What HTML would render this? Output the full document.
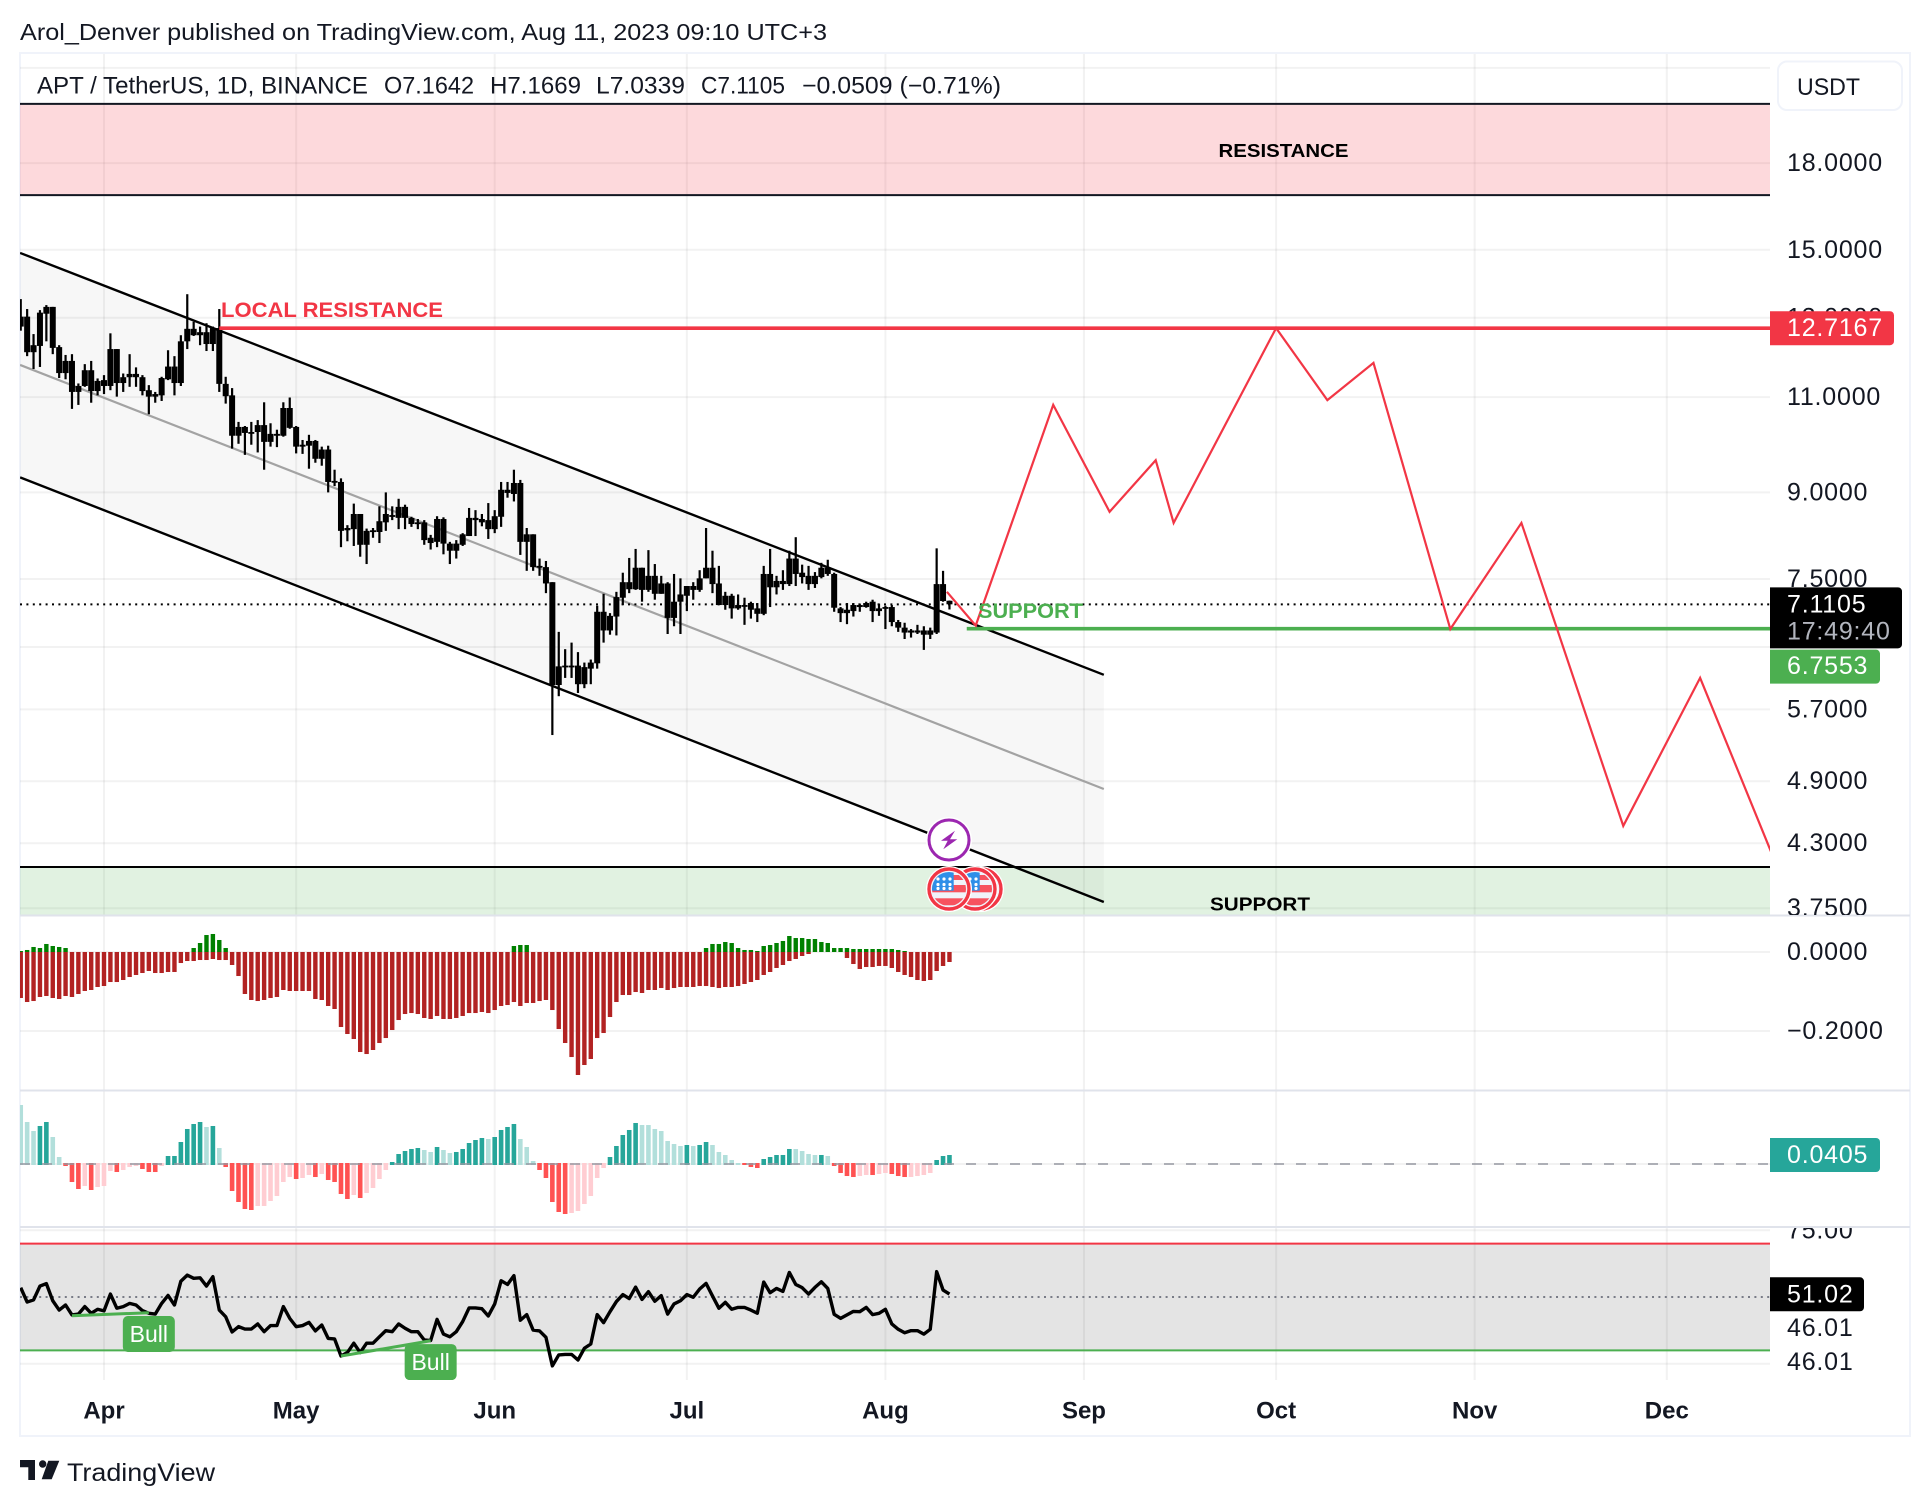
<!DOCTYPE html>
<html lang="en">
<head>
<meta charset="utf-8">
<title>APT / TetherUS chart</title>
<style>
html,body{margin:0;padding:0;background:#fff;}
svg{display:block;font-family:"Liberation Sans",sans-serif;}
.tick{font-size:25px;letter-spacing:.8px;fill:#131722;}
.legend{font-size:24px;fill:#131722;}
</style>
</head>
<body>
<svg id="chart" xmlns="http://www.w3.org/2000/svg" width="1930" height="1506" viewBox="0 0 1930 1506">
<defs>
<clipPath id="clip-price"><rect x="20" y="54" width="1750" height="861"/></clipPath>
<clipPath id="clip-macd"><rect x="20" y="916" width="1750" height="174"/></clipPath>
<clipPath id="clip-squeeze"><rect x="20" y="1091" width="1750" height="135"/></clipPath>
<clipPath id="clip-rsi"><rect x="20" y="1228" width="1750" height="152"/></clipPath>
<clipPath id="clip-price-axis"><rect x="1772" y="54" width="136" height="861"/></clipPath>
<clipPath id="clip-squeeze-axis"><rect x="1772" y="1092" width="136" height="134"/></clipPath>
<clipPath id="clip-rsi-axis"><rect x="1772" y="1228" width="136" height="152"/></clipPath>
<clipPath id="flag-clip"><circle cx="0" cy="0" r="17"/></clipPath>
<g id="us-flag">
<circle r="23" fill="#fff"/>
<circle r="20" fill="#f0f3fa" stroke="#f23645" stroke-width="3.4"/>
<g clip-path="url(#flag-clip)">
<rect x="-17" y="-14" width="34" height="5" fill="#f7525f"/>
<rect x="-17" y="-4" width="34" height="7.3" fill="#f7525f"/>
<rect x="-17" y="9.3" width="34" height="7" fill="#f7525f"/>
<rect x="-17" y="-17" width="21.7" height="18.7" fill="#2f8fe8"/>
<circle cx="-11" cy="-10" r="1.6" fill="#fff"/><circle cx="-5" cy="-10" r="1.6" fill="#fff"/><circle cx="1" cy="-10" r="1.6" fill="#fff"/>
<circle cx="-11" cy="-4.5" r="1.6" fill="#fff"/><circle cx="-5" cy="-4.5" r="1.6" fill="#fff"/><circle cx="1" cy="-4.5" r="1.6" fill="#fff"/>
<circle cx="-11" cy="-.5" r="1.6" fill="#fff"/><circle cx="-5" cy="-.5" r="1.6" fill="#fff"/><circle cx="1" cy="-.5" r="1.6" fill="#fff"/>
</g>
</g>
</defs>

<text x="20" y="40" font-size="23" fill="#131722" textLength="807" lengthAdjust="spacingAndGlyphs">Arol_Denver published on TradingView.com, Aug 11, 2023 09:10 UTC+3</text>

<rect x="20" y="53" width="1890" height="1383" fill="#fff" stroke="#f0f3fa" stroke-width="2"/>

<g id="grid-layer"></g>
<g id="price-layer" clip-path="url(#clip-price)"></g>
<g id="macd-layer" clip-path="url(#clip-macd)"></g>
<g id="squeeze-layer" clip-path="url(#clip-squeeze)"></g>
<g id="rsi-layer" clip-path="url(#clip-rsi)"></g>

<line x1="20" x2="1910" y1="915.5" y2="915.5" stroke="#e0e3eb" stroke-width="2"/>
<line x1="20" x2="1910" y1="1090.5" y2="1090.5" stroke="#e0e3eb" stroke-width="2"/>
<line x1="20" x2="1910" y1="1227" y2="1227" stroke="#e0e3eb" stroke-width="2"/>

<g>
<text class="legend" x="37" y="93.5" textLength="331" lengthAdjust="spacingAndGlyphs">APT / TetherUS, 1D, BINANCE</text>
<text class="legend" x="384" y="93.5" textLength="90" lengthAdjust="spacingAndGlyphs">O7.1642</text>
<text class="legend" x="490" y="93.5" textLength="91" lengthAdjust="spacingAndGlyphs">H7.1669</text>
<text class="legend" x="596" y="93.5" textLength="89" lengthAdjust="spacingAndGlyphs">L7.0339</text>
<text class="legend" x="701" y="93.5" textLength="84" lengthAdjust="spacingAndGlyphs">C7.1105</text>
<text class="legend" x="802" y="93.5" textLength="199" lengthAdjust="spacingAndGlyphs">−0.0509 (−0.71%)</text>
</g>

<g id="price-axis" clip-path="url(#clip-price-axis)"></g>
<g id="macd-axis"></g>
<g id="squeeze-axis" clip-path="url(#clip-squeeze-axis)"></g>
<g id="rsi-axis" clip-path="url(#clip-rsi-axis)"></g>
<g id="time-axis"></g>
<g id="tags-layer"></g>

<g>
<rect x="1778" y="61.5" width="124" height="48.5" rx="9" fill="#fff" stroke="#f0f3fa" stroke-width="2"/>
<text x="1797" y="95" font-size="24" fill="#131722" textLength="63" lengthAdjust="spacingAndGlyphs">USDT</text>
</g>

<g transform="translate(949,840)">
<circle r="23" fill="#fff"/>
<circle r="20" fill="#fff" stroke="#9c27b0" stroke-width="3"/>
<polygon points="6,-9.3 -8,0.7 -1.3,0.7 -5.7,9.3 8.3,-0.7 1,-0.7" fill="#9c27b0"/>
</g>
<use href="#us-flag" x="981" y="889"/>
<use href="#us-flag" x="975" y="889"/>
<use href="#us-flag" x="949" y="889"/>

<g>
<path d="M20 1460H35V1480H28.3V1467.3H20Z" fill="#131722"/>
<circle cx="42.7" cy="1464" r="3.7" fill="#131722"/>
<polygon points="48.3,1460.7 59.3,1460.7 51.7,1479.3 41.7,1479.3" fill="#131722"/>
<text x="67" y="1481" font-size="25" fill="#131722" textLength="148" lengthAdjust="spacingAndGlyphs">TradingView</text>
</g>

<script>
// ---- chart data (daily, first bar is 13 days before Apr 1) ----
const firstDay = -13;
const opens = [
12.76,13.03,12.09,12.25,13.11,13.30,12.22,11.57,11.87,11.12,
11.26,11.64,11.14,11.40,11.26,12.17,11.33,11.47,11.55,11.47,
11.16,11.01,11.04,11.42,11.73,11.33,12.37,12.70,12.53,12.61,
12.30,12.72,11.31,11.04,10.14,10.33,10.20,10.22,10.37,10.01,
10.18,10.14,10.75,10.33,9.91,9.93,10.03,9.66,9.85,9.20,
9.20,8.31,8.33,8.60,8.06,8.31,8.28,8.45,8.58,8.53,
8.73,8.53,8.42,8.45,8.18,8.11,8.51,8.08,7.96,8.06,
8.21,8.53,8.51,8.49,8.33,8.55,9.05,8.97,9.18,8.11,
8.24,7.68,7.69,7.45,6.00,6.23,6.25,6.25,6.01,6.21,
6.28,7.00,6.73,6.93,7.21,7.45,7.34,7.68,7.33,7.55,
7.27,7.43,6.91,7.15,7.24,7.39,7.33,7.51,7.68,7.43,
7.10,7.24,7.05,7.10,7.13,7.05,6.97,7.58,7.37,7.47,
7.42,7.83,7.60,7.55,7.42,7.53,7.68,7.58,7.05,6.98,
7.01,7.10,7.07,7.15,7.01,7.05,7.07,6.85,6.77,6.70,
6.73,6.73,6.67,6.70,7.42,7.1642];
const highs = [
13.52,13.24,12.56,13.21,13.35,13.30,12.27,12.02,12.04,11.32,
11.79,11.87,11.44,11.52,12.58,12.17,11.56,12.04,11.71,11.52,
11.28,11.12,11.48,12.14,11.99,12.53,13.66,12.89,12.76,12.85,
12.76,13.24,11.48,11.21,10.44,10.35,10.44,10.48,10.88,10.41,
10.27,10.88,10.99,10.35,10.05,10.16,10.05,9.91,9.93,9.44,
9.27,8.40,8.79,8.60,8.34,8.35,8.74,9.00,8.74,8.88,
8.77,8.55,8.51,8.49,8.23,8.56,8.54,8.11,8.14,8.26,
8.71,8.67,8.60,8.80,8.67,9.20,9.20,9.44,9.24,8.35,
8.24,7.83,7.79,7.45,6.71,6.47,6.56,6.43,6.29,6.33,
7.09,7.27,6.98,7.30,7.60,7.84,7.99,7.68,7.97,7.74,
7.55,7.45,7.58,7.51,7.39,7.45,7.64,8.35,7.96,7.71,
7.30,7.27,7.26,7.21,7.15,7.13,7.71,7.99,7.55,7.64,
7.96,8.19,7.73,7.71,7.61,7.76,7.81,7.60,7.07,7.13,
7.13,7.12,7.15,7.18,7.12,7.09,7.10,6.88,6.84,6.75,
6.81,6.79,6.77,8.00,7.63,7.1669];
const lows = [
12.65,11.99,11.67,11.72,12.37,12.04,11.45,11.42,10.73,10.82,
11.24,10.87,11.04,11.07,11.16,11.01,11.12,11.24,11.24,11.04,
10.61,10.87,10.91,11.40,11.04,11.26,12.17,12.51,12.27,12.12,
12.12,11.12,10.85,9.87,9.97,9.74,9.95,9.79,9.44,9.91,
9.90,10.12,10.29,9.77,9.76,9.46,9.58,9.52,9.00,9.12,
8.02,8.12,8.04,7.86,7.74,8.18,8.09,8.30,8.49,8.33,
8.33,8.37,8.33,8.06,7.98,8.02,7.90,7.74,7.83,8.04,
8.21,8.21,8.38,8.16,8.26,8.37,8.90,8.83,7.89,7.63,
7.63,7.55,7.28,5.40,5.86,6.09,6.09,5.90,5.96,6.01,
6.21,6.56,6.67,6.66,7.10,7.28,7.33,7.15,7.30,7.18,
7.27,6.68,6.79,6.68,7.01,7.18,7.30,7.51,7.28,7.10,
7.03,6.90,7.03,6.81,6.90,6.85,6.95,7.07,7.26,7.33,
7.39,7.39,7.43,7.33,7.36,7.51,7.55,7.00,6.85,6.82,
6.93,7.00,7.06,6.85,6.94,6.75,6.79,6.71,6.61,6.63,
6.68,6.46,6.61,6.68,7.15,7.0339];
const closes = [
13.03,12.09,12.27,13.14,13.30,12.20,11.57,11.87,11.12,11.26,
11.64,11.14,11.38,11.26,12.17,11.33,11.47,11.55,11.47,11.14,
11.01,11.07,11.45,11.73,11.33,12.37,12.70,12.53,12.61,12.30,
12.72,11.31,11.02,10.14,10.33,10.20,10.22,10.37,10.01,10.18,
10.14,10.75,10.31,9.91,9.95,10.03,9.66,9.85,9.20,9.22,
8.30,8.35,8.60,8.06,8.30,8.28,8.47,8.60,8.55,8.73,
8.53,8.42,8.45,8.14,8.09,8.51,8.08,7.96,8.08,8.24,
8.53,8.49,8.45,8.33,8.56,9.05,8.99,9.18,8.11,8.24,
7.69,7.71,7.43,6.00,6.24,6.25,6.24,6.01,6.23,6.29,
7.00,6.73,6.94,7.22,7.45,7.34,7.68,7.33,7.55,7.27,
7.43,6.91,7.15,7.26,7.39,7.33,7.51,7.68,7.42,7.10,
7.24,7.05,7.10,7.09,7.03,6.97,7.58,7.37,7.47,7.42,
7.83,7.58,7.53,7.42,7.55,7.68,7.58,7.06,6.98,7.03,
7.10,7.07,7.13,7.01,7.05,7.07,6.85,6.77,6.70,6.73,
6.70,6.67,6.73,7.42,7.16,7.1105];
const macdRed = [
-.1165,-.1266,-.1241,-.1139,-.1114,-.1165,-.1190,-.1114,-.1139,-.1063,
-.0987,-.0962,-.0886,-.0861,-.0760,-.0760,-.0709,-.0633,-.0582,-.0532,
-.0481,-.0532,-.0532,-.0506,-.0506,-.0279,-.0228,-.0228,-.0203,-.0203,
-.0177,-.0203,-.0203,-.0329,-.0608,-.1063,-.1215,-.1241,-.1215,-.1165,
-.1139,-.0962,-.0987,-.0987,-.0987,-.0987,-.1190,-.1215,-.1367,-.1443,
-.1899,-.2076,-.2203,-.2532,-.2583,-.2481,-.2304,-.2178,-.1975,-.1722,
-.1570,-.1545,-.1570,-.1671,-.1696,-.1620,-.1696,-.1696,-.1671,-.1620,
-.1545,-.1545,-.1519,-.1545,-.1469,-.1367,-.1342,-.1266,-.1367,-.1291,
-.1291,-.1241,-.1215,-.1469,-.1950,-.2304,-.2659,-.3114,-.2861,-.2709,
-.2178,-.2051,-.1646,-.1266,-.1089,-.1089,-.1013,-.1038,-.0962,-.0962,
-.0912,-.0962,-.0912,-.0886,-.0886,-.0886,-.0861,-.0861,-.0886,-.0912,
-.0886,-.0886,-.0861,-.0810,-.0760,-.0709,-.0582,-.0506,-.0405,-.0329,
-.0228,-.0177,-.0101,-.0051,0,0,0,0,0,-.0152,
-.0304,-.0430,-.0380,-.0380,-.0354,-.0354,-.0405,-.0506,-.0582,-.0633,
-.0709,-.0734,-.0709,-.0481,-.0354,-.0253];
const macdGreen = [
.0025,.0051,.0127,.0101,.0203,.0152,.0127,.0101,0,0,
0,0,0,0,0,0,0,0,0,0,
0,0,0,0,0,0,0,.0101,.0228,.0430,
.0456,.0304,.0101,0,0,0,0,0,0,0,
0,0,0,0,0,0,0,0,0,0,
0,0,0,0,0,0,0,0,0,0,
0,0,0,0,0,0,0,0,0,0,
0,0,0,0,0,0,0,.0152,.0177,.0177,
0,0,0,0,0,0,0,0,0,0,
0,0,0,0,0,0,0,0,0,0,
0,0,0,0,0,0,0,.0101,.0203,.0203,
.0253,.0228,.0101,.0051,.0051,.0025,.0152,.0177,.0228,.0279,
.0405,.0354,.0354,.0329,.0329,.0253,.0228,.0101,.0101,.0101,
.0076,.0076,.0076,.0076,.0076,.0076,.0076,.0051,.0025,0,
0,0,0,0,0,0];
const squeeze = [
.2658,.1892,.1486,.1712,.1892,.1216,.0315,-.0090,-.0811,-.1126,
-.0991,-.1171,-.1036,-.0991,-.0315,-.0360,-.0270,-.0135,-.0090,-.0225,
-.0360,-.0361,-.0090,.0360,.0361,.0991,.1577,.1802,.1892,.1667,
.1712,.0721,-.0135,-.1216,-.1712,-.2027,-.2072,-.1892,-.1891,-.1667,
-.1441,-.0811,-.0586,-.0676,-.0631,-.0495,-.0586,-.0450,-.0721,-.0811,
-.1351,-.1577,-.1396,-.1532,-.1306,-.1081,-.0676,-.0270,.0090,.0450,
.0586,.0676,.0721,.0631,.0541,.0766,.0631,.0495,.0541,.0676,
.0946,.1081,.1171,.1126,.1216,.1532,.1667,.1802,.1126,.0766,
.0135,-.0270,-.0631,-.1712,-.2162,-.2252,-.2207,-.2117,-.1802,-.1441,
-.0631,-.0180,.0315,.0811,.1306,.1532,.1847,.1757,.1756,.1577,
.1486,.1036,.0901,.0811,.0856,.0811,.0856,.0991,.0856,.0541,
.0405,.0180,.0045,-.0045,-.0135,-.0180,.0225,.0315,.0405,.0406,
.0676,.0675,.0586,.0450,.0405,.0406,.0360,-.0090,-.0405,-.0541,
-.0586,-.0541,-.0495,-.0496,-.0450,-.0405,-.0450,-.0541,-.0586,-.0585,
-.0541,-.0495,-.0405,.0180,.0360,.0405];
const rsi = [
53.5,48.1,48.9,54.1,55.0,48.6,45.1,47.0,43.3,43.6,
46.4,43.9,45.4,44.8,51.1,45.8,46.4,47.6,47.0,44.9,
43.9,43.6,47.6,50.6,47.0,55.9,58.2,57.0,57.2,54.1,
57.6,45.1,42.6,36.9,38.9,38.0,38.0,39.9,37.0,39.3,
39.3,46.4,42.0,38.9,39.3,40.5,37.3,39.5,34.5,34.3,
27.9,29.2,32.7,29.2,32.7,32.7,35.1,37.4,37.0,39.9,
38.3,37.0,37.0,33.9,33.7,41.6,36.1,35.1,37.0,40.8,
45.9,45.9,45.6,42.9,47.4,56.1,54.7,58.0,41.3,43.4,
37.6,37.3,34.9,24.2,28.3,28.5,28.5,26.4,30.8,32.4,
43.4,40.4,44.5,48.3,50.9,49.4,53.7,49.1,52.0,48.4,
50.5,43.6,47.4,48.6,50.9,49.9,53.0,55.1,50.4,45.8,
48.0,45.4,46.1,46.1,45.1,43.9,55.6,51.6,53.2,52.1,
59.2,54.7,53.5,51.1,53.6,55.7,53.2,43.5,42.0,43.3,
44.6,44.5,46.1,43.4,43.9,45.4,39.9,37.9,36.6,37.4,
37.4,36.1,37.9,59.5,52.6,51.1];

const priceTickLabels = ['18.0000','15.0000','13.0000','11.0000','9.0000','7.5000','5.7000','4.9000','4.3000','3.7500'];
const extraPriceGrid = [22,6.5];
const macdTickValues = [0,-0.2];
const macdTickLabels = ['0.0000','−0.2000'];
const monthLabels = ['Apr','May','Jun','Jul','Aug','Sep','Oct','Nov','Dec'];
const monthDays = [0,30,61,91,122,153,183,214,244];

const lastPrice = 7.1105;
const resistancePrice = 12.7167;
const resistanceStartDay = 18;
const supportPrice = 6.7553;
const supportStartDay = 134.7;
const resistanceZone = [20.39,16.83];
const supportZone = [4.09,3.55];
const channelDays = [-13.1,156.1];
const channelTop = [14.90,6.13];
const channelMid = [11.77,4.82];
const channelBottom = [9.29,3.80];
const forecastDays = [131.6,136.1,148.2,157,164.2,167,183.0,191,198.2,210.2,221.3,237.2,249.2,260.3];
const forecastPrices = [7.30,6.80,10.82,8.64,9.63,8.44,12.72,10.93,11.82,6.75,8.44,4.46,6.09,4.22];
const bullDivergenceDays = [[-5,7],[37,51]];
const bullDivergenceRsi = [[43,44.1],[27.9,33.6]];

// ---- axis functions ----
function dayX(d){return 104+6.405*d;}
function priceY(p){return 579-475*Math.log(p/7.5);}
function macdY(v){return 952-395*v;}
function squeezeY(v){return 1164-222*v;}
function rsiY(v){return 1297-2.67*(v-50);}

const SVGNS='http://www.w3.org/2000/svg';
function el(tag,attrs,parent,text){
  const n=document.createElementNS(SVGNS,tag);
  for(const k in attrs){n.setAttribute(k,attrs[k]);}
  if(text!==undefined){n.textContent=text;}
  parent.appendChild(n);
  return n;
}
const gridLayer=document.getElementById('grid-layer');
const priceLayer=document.getElementById('price-layer');
const macdLayer=document.getElementById('macd-layer');
const squeezeLayer=document.getElementById('squeeze-layer');
const rsiLayer=document.getElementById('rsi-layer');
const priceAxis=document.getElementById('price-axis');
const macdAxis=document.getElementById('macd-axis');
const squeezeAxis=document.getElementById('squeeze-axis');
const rsiAxis=document.getElementById('rsi-axis');
const timeAxis=document.getElementById('time-axis');
const tagsLayer=document.getElementById('tags-layer');
function gridH(y){
  const l=el('line',{x1:20,x2:1770,y1:y,y2:y,stroke:'#808080','stroke-opacity':.1,'stroke-width':2},gridLayer);
  
  
}
// vertical grid
monthDays.forEach(function(d,i){
  const v=el('line',{x1:dayX(d),x2:dayX(d),y1:54,y2:1380,stroke:'#808080','stroke-opacity':.1,'stroke-width':2},gridLayer);
  
  
  const t=el('text',{x:dayX(d),y:1418.5,'text-anchor':'middle','font-size':24,'font-weight':'bold',fill:'#131722'},timeAxis,monthLabels[i]);
  
  
});
extraPriceGrid.forEach(function(p){gridH(priceY(p));});
priceTickLabels.forEach(function(lbl){
  const y=priceY(parseFloat(lbl));
  gridH(y);
  const t=el('text',{x:1787,y:y+8,class:'tick'},priceAxis,lbl);
  
  
});
macdTickValues.forEach(function(v,i){
  const y=macdY(v);
  gridH(y);
  const t=el('text',{x:1787,y:y+8,class:'tick'},macdAxis,macdTickLabels[i]);
  
  
});
gridH(squeezeY(0));
const sq0=el('text',{x:1787,y:squeezeY(0)+8,class:'tick'},squeezeAxis,'0.0000');


gridH(rsiY(75));
gridH(rsiY(25));
const r75=el('text',{x:1787,y:rsiY(75)+8,class:'tick'},rsiAxis,'75.00');


const r46a=el('text',{x:1787,y:1336,class:'tick'},rsiAxis,'46.01');


const r46b=el('text',{x:1787,y:1370,class:'tick'},rsiAxis,'46.01');



// price pane
const zoneR=el('rect',{x:20,y:priceY(resistanceZone[0]),width:1750,height:priceY(resistanceZone[1])-priceY(resistanceZone[0]),fill:'#f23645','fill-opacity':.19},priceLayer);


const chFill=el('polygon',{points:[dayX(channelDays[0])+','+priceY(channelTop[0]),dayX(channelDays[1])+','+priceY(channelTop[1]),dayX(channelDays[1])+','+priceY(channelBottom[1]),dayX(channelDays[0])+','+priceY(channelBottom[0])].join(' '),fill:'#000','fill-opacity':.032},priceLayer);


const zoneS=el('rect',{x:20,y:priceY(supportZone[0]),width:1750,height:priceY(supportZone[1])-priceY(supportZone[0]),fill:'#4caf50','fill-opacity':.17},priceLayer);


const zrt=el('line',{x1:20,x2:1770,y1:priceY(resistanceZone[0]),y2:priceY(resistanceZone[0]),stroke:'#131722','stroke-width':2},priceLayer);


const zrb=el('line',{x1:20,x2:1770,y1:priceY(resistanceZone[1]),y2:priceY(resistanceZone[1]),stroke:'#131722','stroke-width':2},priceLayer);


const zst=el('line',{x1:20,x2:1770,y1:priceY(supportZone[0]),y2:priceY(supportZone[0]),stroke:'#000','stroke-width':2},priceLayer);


const chTop=el('line',{x1:dayX(channelDays[0]),y1:priceY(channelTop[0]),x2:dayX(channelDays[1]),y2:priceY(channelTop[1]),stroke:'#000','stroke-width':2.4},priceLayer);


const chMid=el('line',{x1:dayX(channelDays[0]),y1:priceY(channelMid[0]),x2:dayX(channelDays[1]),y2:priceY(channelMid[1]),stroke:'#a3a3a3','stroke-width':2.2},priceLayer);


const chBot=el('line',{x1:dayX(channelDays[0]),y1:priceY(channelBottom[0]),x2:dayX(channelDays[1]),y2:priceY(channelBottom[1]),stroke:'#000','stroke-width':2.4},priceLayer);


const lastLine=el('line',{x1:20,x2:1770,y1:priceY(lastPrice),y2:priceY(lastPrice),stroke:'#000','stroke-width':2,'stroke-dasharray':'2 4.4'},priceLayer);



// candles
closes.forEach(function(c,i){
  const d=firstDay+i, x=dayX(d);
  const wick=el('rect',{x:x-1.1,y:priceY(highs[i]),width:2.2,height:priceY(lows[i])-priceY(highs[i]),fill:'#000'},priceLayer);
  
  
  const top=Math.min(priceY(opens[i]),priceY(c)), bot=Math.max(priceY(opens[i]),priceY(c));
  const body=el('rect',{x:x-3,y:top,width:6,height:Math.max(bot-top,1.8),fill:'#000'},priceLayer);
  
  
});

// drawings
const resLine=el('line',{x1:dayX(resistanceStartDay),x2:1770,y1:priceY(resistancePrice),y2:priceY(resistancePrice),stroke:'#f23645','stroke-width':3.6},priceLayer);


const supLine=el('line',{x1:dayX(supportStartDay),x2:1770,y1:priceY(supportPrice),y2:priceY(supportPrice),stroke:'#4caf50','stroke-width':3.6},priceLayer);


const forecast=el('polyline',{points:forecastDays.map(function(d,i){return dayX(d)+','+priceY(forecastPrices[i]);}).join(' '),fill:'none',stroke:'#f23645','stroke-width':2.2},priceLayer);


const t1=el('text',{x:221,y:317,'font-size':21,'font-weight':'bold',fill:'#f23645',textLength:222,lengthAdjust:'spacingAndGlyphs'},priceLayer,'LOCAL RESISTANCE');


const t2=el('text',{x:978,y:618,'font-size':21,'font-weight':'bold',fill:'#4caf50',textLength:105,lengthAdjust:'spacingAndGlyphs'},priceLayer,'SUPPORT');


const t3=el('text',{x:1218.5,y:157,'font-size':18,'font-weight':'bold',fill:'#000',textLength:130,lengthAdjust:'spacingAndGlyphs'},priceLayer,'RESISTANCE');


const t4=el('text',{x:1210,y:910.5,'font-size':18,'font-weight':'bold',fill:'#000',textLength:100,lengthAdjust:'spacingAndGlyphs'},priceLayer,'SUPPORT');



// histogram pane
macdRed.forEach(function(v,i){
  if(v===0){return;}
  const b=el('rect',{x:dayX(firstDay+i)-2.2,y:macdY(0),width:4.4,height:macdY(v)-macdY(0),fill:'#b22222'},macdLayer);
  
  
});
macdGreen.forEach(function(v,i){
  if(v===0){return;}
  const b=el('rect',{x:dayX(firstDay+i)-2.2,y:macdY(v),width:4.4,height:macdY(0)-macdY(v),fill:'#008000'},macdLayer);
  
  
});

// squeeze pane
squeeze.forEach(function(v,i){
  const prev=i>0?squeeze[i-1]:Infinity;
  let color;
  if(v>=0){color=v>prev?'#26a69a':'#b2dfdb';}
  else{color=v<=prev?'#ff5252':'#ffcdd2';}
  const x=dayX(firstDay+i)-2.3;
  const top=v>=0?squeezeY(v):squeezeY(0)-1;
  const bot=v>=0?squeezeY(0)+1:squeezeY(v);
  const b=el('rect',{x:x,y:top,width:4.6,height:bot-top,fill:color},squeezeLayer);
  
  
});
const zeroDash=el('line',{x1:20,x2:1770,y1:squeezeY(0),y2:squeezeY(0),stroke:'#9598a1','stroke-opacity':.75,'stroke-width':2,'stroke-dasharray':'10 12'},squeezeLayer);



// rsi pane
const rsiBand=el('rect',{x:20,y:rsiY(70),width:1750,height:rsiY(30)-rsiY(70),fill:'#000','fill-opacity':.105},rsiLayer);


const rsiUp=el('line',{x1:20,x2:1770,y1:rsiY(70),y2:rsiY(70),stroke:'#f23645','stroke-width':2},rsiLayer);


const rsiLow=el('line',{x1:20,x2:1770,y1:rsiY(30),y2:rsiY(30),stroke:'#4caf50','stroke-width':2},rsiLayer);


const rsiMid=el('line',{x1:20,x2:1770,y1:rsiY(50),y2:rsiY(50),stroke:'#787b86','stroke-width':2,'stroke-dasharray':'2 4.4'},rsiLayer);


const rsiPath=el('polyline',{points:rsi.map(function(v,i){return dayX(firstDay+i)+','+rsiY(v);}).join(' '),fill:'none',stroke:'#000','stroke-width':3.4,'stroke-linejoin':'round'},rsiLayer);


bullDivergenceDays.forEach(function(ds,i){
  const vals=bullDivergenceRsi[i];
  const l=el('line',{x1:dayX(ds[0]),y1:rsiY(vals[0]),x2:dayX(ds[1]),y2:rsiY(vals[1]),stroke:'#4caf50','stroke-width':3},rsiLayer);
  
  
  const bx=dayX(ds[1]), by=rsiY(vals[1])+3.3;
  const box=el('rect',{x:bx-26,y:by,width:52,height:36,rx:5,fill:'#4caf50'},rsiLayer);
  
  
  const tx=el('text',{x:bx,y:by+26,'text-anchor':'middle','font-size':23,fill:'#fff'},rsiLayer,'Bull');
  
  
});

// price tags
function tag(yTop,h,w,color){
  const r=el('path',{d:'M1770 '+yTop+'H'+(1770+w-4)+'a4 4 0 0 1 4 4V'+(yTop+h-4)+'a4 4 0 0 1 -4 4H1770Z',fill:color},tagsLayer);
  
  
}
function tagText(s,y,color){
  const t=el('text',{x:1787,y:y+8,class:'tick',style:'fill:'+color},tagsLayer,s);
  
  
}
tag(priceY(resistancePrice)-17,34,124,'#f23645');
tagText('12.7167',priceY(resistancePrice),'#ffffff');
tag(priceY(lastPrice)-17,61,132,'#000000');
tagText('7.1105',priceY(lastPrice),'#ffffff');
tagText('17:49:40',priceY(lastPrice)+27,'#b2b5be');
tag(priceY(supportPrice)+21,34,110,'#4caf50');
tagText('6.7553',priceY(supportPrice)+37.5,'#ffffff');
tag(squeezeY(0)-26,34,110,'#26a69a');
tagText('0.0405',squeezeY(0)-9,'#ffffff');
tag(rsiY(51.02)-17,34,94,'#000000');
tagText('51.02',rsiY(51.02),'#ffffff');
</script>
</svg>
</body>
</html>
